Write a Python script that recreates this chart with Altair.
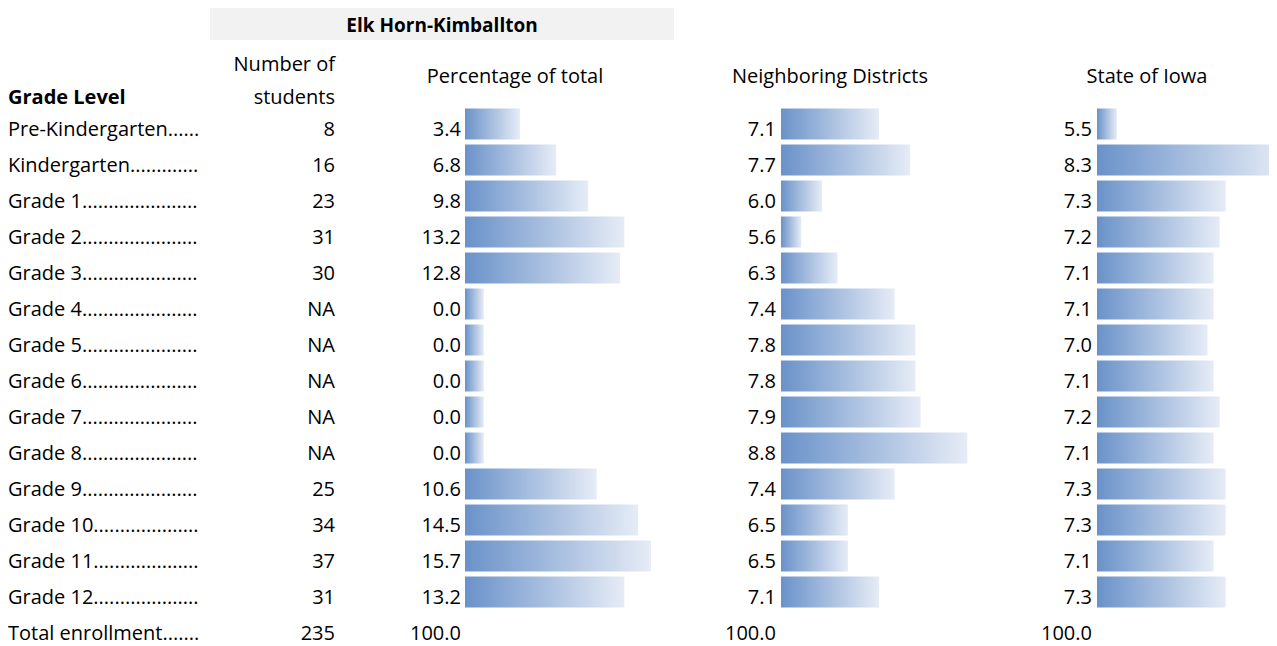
import altair as alt
import pandas as pd

# ---------------- data ----------------
grade_labels = [
    "Pre-Kindergarten......",
    "Kindergarten.............",
    "Grade 1......................",
    "Grade 2......................",
    "Grade 3......................",
    "Grade 4......................",
    "Grade 5......................",
    "Grade 6......................",
    "Grade 7......................",
    "Grade 8......................",
    "Grade 9......................",
    "Grade 10....................",
    "Grade 11....................",
    "Grade 12....................",
    "Total enrollment.......",
]
num_students = ["8", "16", "23", "31", "30", "NA", "NA", "NA", "NA", "NA",
                "25", "34", "37", "31", "235"]
pct_total = [3.4, 6.8, 9.8, 13.2, 12.8, 0.0, 0.0, 0.0, 0.0, 0.0,
             10.6, 14.5, 15.7, 13.2, 100.0]
neighboring = [7.1, 7.7, 6.0, 5.6, 6.3, 7.4, 7.8, 7.8, 7.9, 8.8,
               7.4, 6.5, 6.5, 7.1, 100.0]
state_iowa = [5.5, 8.3, 7.3, 7.2, 7.1, 7.1, 7.0, 7.1, 7.2, 7.1,
              7.3, 7.3, 7.1, 7.3, 100.0]
is_total = [False] * 14 + [True]

district_name = "Elk Horn-Kimballton"
header_grade = "Grade Level"
header_number = ["Number of", "students"]
header_pct = "Percentage of total"
header_neigh = "Neighboring Districts"
header_state = "State of Iowa"

df = pd.DataFrame({
    "row": grade_labels,
    "num": num_students,
    "pct": pct_total,
    "neigh": neighboring,
    "state": state_iowa,
    "total": is_total,
})

# ---------------- style ----------------
FONT = "Open Sans"
FS = 20
H = 540
DY = 12
gradient = alt.LinearGradient(
    gradient="linear",
    stops=[alt.GradientStop(color="#6a92c9", offset=0),
           alt.GradientStop(color="#e6ecf6", offset=1)],
    x1=0, x2=1, y1=0, y2=0,
)

yenc = alt.Y("row:N", sort=grade_labels, axis=None,
             scale=alt.Scale(paddingInner=5 / 36, paddingOuter=2.5 / 36))

base = alt.Chart(df)


def header(text, x, y, align="center", bold=False, size=FS):
    return alt.Chart(pd.DataFrame({"t": [text]})).mark_text(
        align=align, baseline="alphabetic", font=FONT, fontSize=size,
        fontWeight="bold" if bold else "normal", color="#000000"
    ).encode(text="t:N", x=alt.value(x), y=alt.value(y))


# panel 1: grade labels
p1 = alt.layer(
    base.mark_text(align="left", baseline="alphabetic", dy=DY, font=FONT,
                   fontSize=FS, color="#000000").encode(
        y=yenc, x=alt.value(0), text="row:N"),
    header(header_grade, 0, -2.5, align="left", bold=True),
).properties(width=202, height=H)

# panel 2: number of students + district header box
box = alt.Chart(pd.DataFrame({"t": [district_name]})).mark_rect(
    color="#f2f2f2").encode(x=alt.value(0), x2=alt.value(464),
                            y=alt.value(-98), y2=alt.value(-66))
p2 = alt.layer(
    box,
    header(district_name, 232, -74.5, bold=True, size=19),
    base.mark_text(align="right", baseline="alphabetic", dy=DY, font=FONT,
                   fontSize=FS, color="#000000").encode(
        y=yenc, x=alt.value(125), text="num:N"),
    header(header_number[0], 125, -35.5, align="right"),
    header(header_number[1], 125, -2.5, align="right"),
).properties(width=130, height=H)


def bar_panel(field, start, domain, width, title, title_x, dx, clip=False):
    xenc = alt.X(f"{field}:Q", axis=None,
                 scale=alt.Scale(domain=domain, nice=False, zero=False))
    bars = base.transform_filter("!datum.total").mark_bar(
        color=gradient, clip=clip).encode(
        y=yenc, x=xenc, x2=alt.datum(start))
    labels = base.mark_text(align="right", baseline="alphabetic", dx=dx,
                            dy=DY, font=FONT, fontSize=FS,
                            color="#000000").encode(
        y=yenc, x=alt.X(datum=start, type="quantitative"),
        text=alt.Text(f"{field}:Q", format=".1f"))
    return alt.layer(bars, labels, header(title, title_x, -23.5)).properties(
        width=width, height=H)


p3 = bar_panel("pct", -1.76, [-13.497, 18.428], 340, header_pct, 175, -4)
p4 = bar_panel("neigh", 5.21, [3.264, 9.353], 316, header_neigh, 150, -5)
p5 = bar_panel("state", 5.17, [3.498, 8.018], 273, header_state, 151, -5,
               clip=True)

chart = alt.hconcat(p1, p2, p3, p4, p5, spacing=0, bounds="flush").properties(
    padding=0
).configure_view(strokeWidth=0)

chart.save("out.html", embed_options={"renderer": "svg", "actions": False})
